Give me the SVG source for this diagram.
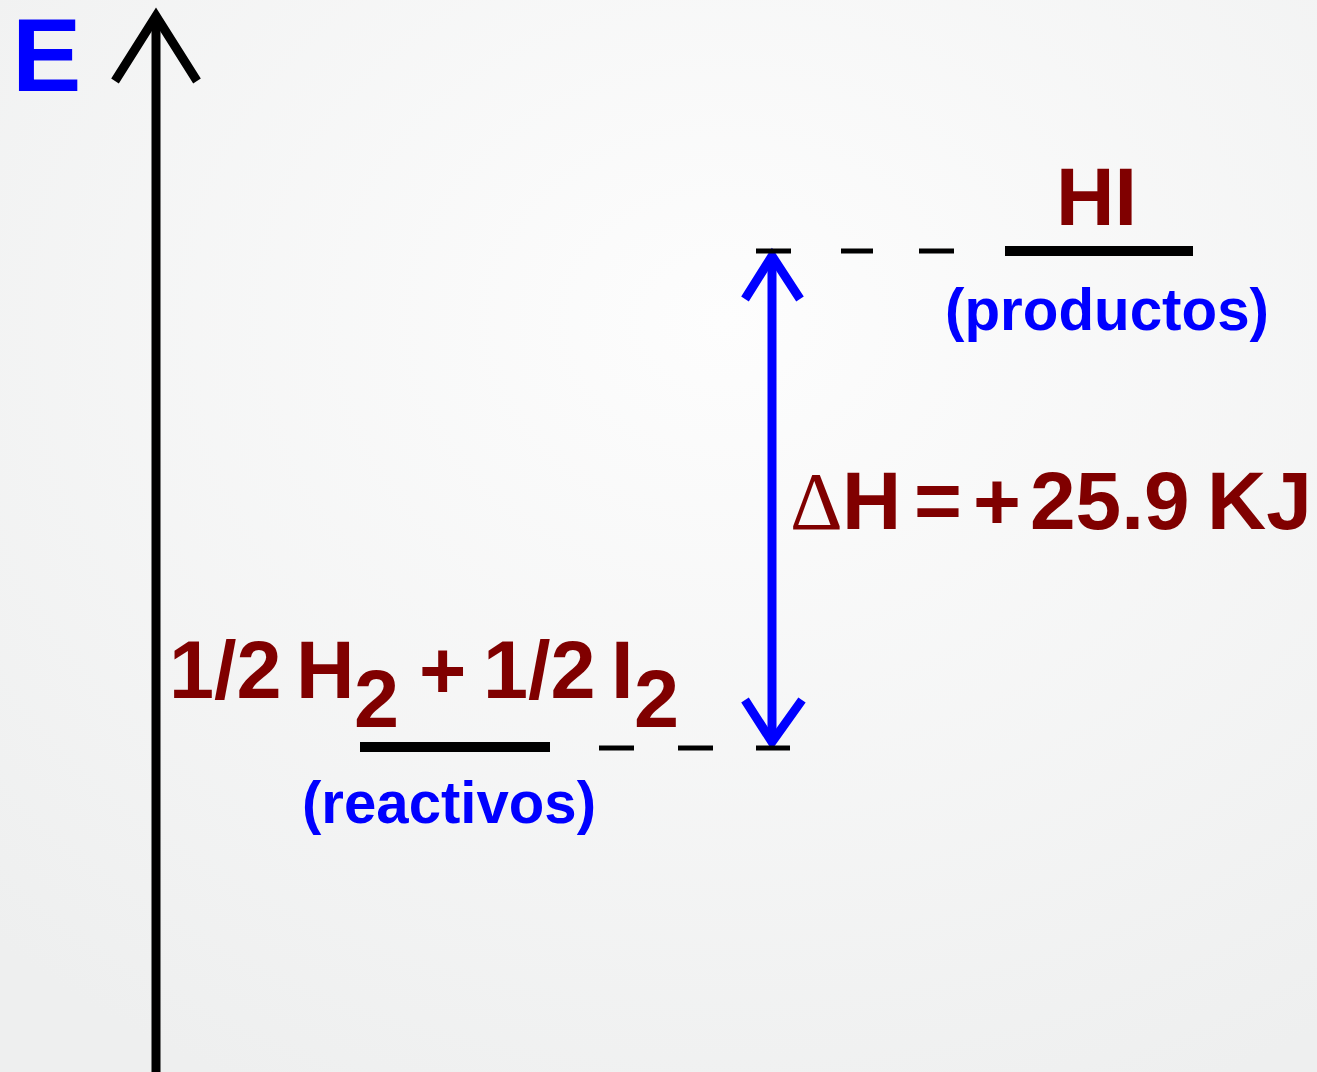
<svg xmlns="http://www.w3.org/2000/svg" width="1317" height="1072" viewBox="0 0 1317 1072">
  <defs>
    <radialGradient id="bg" cx="55%" cy="30%" r="80%">
      <stop offset="0" stop-color="#fdfdfd"/>
      <stop offset="1" stop-color="#eeefef"/>
    </radialGradient>
    <style>
      .red { fill: #800000; font-family: "Liberation Sans", Arial, sans-serif; font-weight: bold; }
      .blue { fill: #0000ff; font-family: "Liberation Sans", Arial, sans-serif; font-weight: bold; }
      .big { font-size: 81px; }
      .sub { font-size: 60px; }
      .level { stroke: #000; stroke-width: 10; fill: none; }
      .dash { stroke: #000; stroke-width: 5; fill: none; }
      .axis { stroke: #000; stroke-width: 9; fill: none; }
      .dh { stroke: #0000ff; stroke-width: 9; fill: none; }
    </style>
  </defs>
  <rect width="1317" height="1072" fill="url(#bg)"/>

  <g id="connectors">
    <line class="axis" x1="156" y1="18" x2="156" y2="1072"/>
    <polyline class="axis" points="115,81 156,16 197,81"/>
    <line class="dh" x1="772" y1="262" x2="772" y2="738"/>
    <polyline class="dh" points="745,299 772,256 800,299"/>
    <polyline class="dh" points="745,700 772,742 802,700"/>
    <g id="dashes">
      <line class="dash" x1="756" y1="251" x2="791" y2="251"/>
      <line class="dash" x1="841" y1="251" x2="873" y2="251"/>
      <line class="dash" x1="919" y1="251" x2="954" y2="251"/>
      <line class="dash" x1="599" y1="748" x2="634" y2="748"/>
      <line class="dash" x1="678" y1="748" x2="713" y2="748"/>
      <line class="dash" x1="756" y1="748" x2="790" y2="748"/>
    </g>
  </g>

  <g id="axis-label">
    <text class="blue" x="12" y="91" font-size="104">E</text>
  </g>

  <g id="products">
    <line class="level" x1="1005" y1="251" x2="1193" y2="251"/>
    <text class="red big" x="1056" y="225">HI</text>
    <text class="blue sub" x="945" y="330" textLength="324" lengthAdjust="spacingAndGlyphs">(productos)</text>
  </g>

  <g id="reactants">
    <line class="level" x1="360" y1="747" x2="550" y2="747"/>
    <text class="red big" y="698"><tspan x="169">1/2</tspan><tspan x="296">H</tspan><tspan x="354" y="727">2</tspan><tspan x="419" y="698">+</tspan><tspan x="483">1/2</tspan><tspan x="611">I</tspan><tspan x="634" y="727">2</tspan></text>
    <text class="blue sub" x="302" y="823" textLength="294" lengthAdjust="spacingAndGlyphs">(reactivos)</text>
  </g>

  <g id="enthalpy">
    <text class="red" y="529" font-size="82"><tspan x="790" font-family="'Liberation Serif', serif" font-weight="normal">Δ</tspan><tspan x="842">H</tspan><tspan x="914">=</tspan><tspan x="973">+</tspan><tspan x="1030">25.9</tspan><tspan x="1207">KJ</tspan></text>
  </g>
</svg>
